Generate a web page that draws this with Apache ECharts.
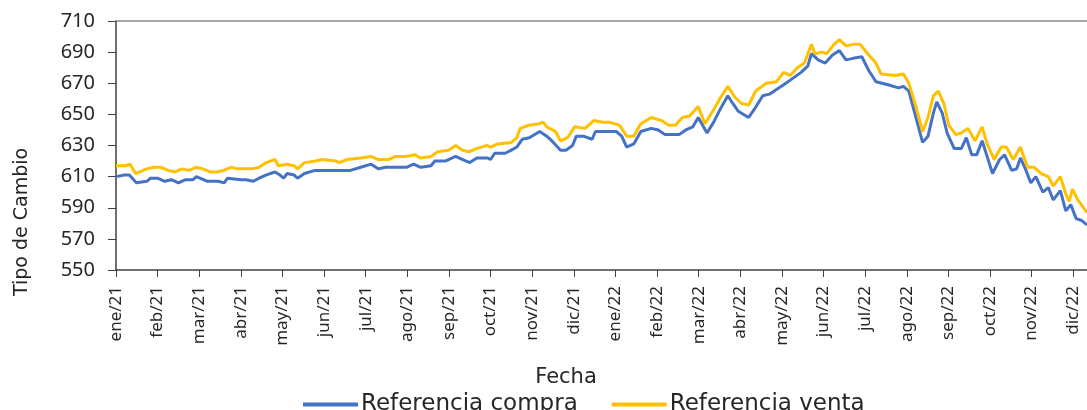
<!DOCTYPE html>
<html>
<head>
<meta charset="utf-8">
<title>Tipo de Cambio</title>
<script src="https://cdn.jsdelivr.net/npm/echarts@6/dist/echarts.min.js"></script>
<style>
  html, body { margin: 0; padding: 0; background: #fff; }
</style>
</head>
<body>
<div id="main" style="width: 1087px; height: 410px;"></div>
<script type="text/javascript">
// month tick labels, x = months since ene/21
var monthLabels = ['ene/21','feb/21','mar/21','abr/21','may/21','jun/21','jul/21','ago/21','sep/21','oct/21','nov/21','dic/21',
  'ene/22','feb/22','mar/22','abr/22','may/22','jun/22','jul/22','ago/22','sep/22','oct/22','nov/22','dic/22'];

var yTicks = { min: 550, max: 710, step: 20 };
var xEnd = 23.33; // chart is cut a few days into dic/22

// [month, value]
var compra = [
  [0,610],[0.2,611],[0.32,611],[0.49,606],[0.74,607],[0.83,609],[1,609],[1.17,607],[1.33,608],[1.5,606],
  [1.67,608],[1.85,608],[1.93,610],[2.2,607],[2.45,607],[2.6,606],[2.68,609],[3,608],[3.12,608],[3.3,607],
  [3.44,609],[3.6,611],[3.82,613],[3.94,611],[4.03,609],[4.11,612],[4.28,611],[4.36,609],[4.53,612],[4.78,614],
  [4.95,614],[5.29,614],[5.63,614],[5.88,616],[6.13,618],[6.3,615],[6.47,616],[6.73,616],[6.98,616],[7.15,618],
  [7.32,616],[7.57,617],[7.66,620],[7.91,620],[8.16,623],[8.33,621],[8.5,619],[8.67,622],[8.92,622],[9,621],
  [9.1,625],[9.35,625],[9.5,627],[9.63,629],[9.76,634],[9.93,635],[10.18,639],[10.35,636],[10.51,632],[10.68,627],
  [10.81,627],[10.97,630],[11.06,636],[11.23,636],[11.44,634],[11.52,639],[11.69,639],[12.02,639],[12.15,636],[12.27,629],
  [12.44,631],[12.61,639],[12.86,641],[13.03,640],[13.19,637],[13.53,637],[13.69,640],[13.86,642],[13.99,648],[14.2,638],
  [14.36,645],[14.53,654],[14.7,662],[14.82,657],[14.95,652],[15.2,648],[15.33,653],[15.54,662],[15.7,663],[15.87,666],
  [16.04,669],[16.2,672],[16.46,677],[16.62,681],[16.71,689],[16.87,685],[17.04,683],[17.21,688],[17.38,691],[17.54,685],
  [17.71,686],[17.92,687],[18.09,678],[18.26,671],[18.55,669],[18.8,667],[18.92,668],[19.05,665],[19.22,648],[19.38,632],
  [19.51,636],[19.64,651],[19.72,658],[19.85,651],[19.97,638],[20.14,628],[20.31,628],[20.43,635],[20.56,624],[20.68,624],
  [20.81,633],[20.93,623],[21.06,612],[21.23,621],[21.35,624],[21.52,614],[21.64,615],[21.73,622],[21.85,615],[21.98,606],
  [22.1,610],[22.27,600],[22.4,603],[22.52,595],[22.69,601],[22.82,588],[22.94,592],[23.07,583],[23.19,582],[23.33,579]
];

var venta = [
  [0,617],[0.24,617],[0.34,618],[0.47,612],[0.57,613],[0.74,615],[0.91,616],[1.08,616],[1.25,614],[1.42,613],
  [1.58,615],[1.75,614],[1.92,616],[2.09,615],[2.26,613],[2.43,613],[2.59,614],[2.76,616],[2.93,615],[3.27,615],
  [3.44,616],[3.61,619],[3.82,621],[3.9,617],[4.11,618],[4.28,617],[4.36,615],[4.53,619],[4.79,620],[4.95,621],
  [5.29,620],[5.37,619],[5.54,621],[5.88,622],[6.13,623],[6.3,621],[6.55,621],[6.72,623],[6.98,623],[7.19,624],
  [7.31,622],[7.57,623],[7.73,626],[7.99,627],[8.16,630],[8.32,627],[8.49,626],[8.66,628],[8.91,630],[9,629],
  [9.17,631],[9.5,632],[9.63,635],[9.71,641],[9.92,643],[10.18,644],[10.26,645],[10.35,642],[10.56,639],[10.68,633],
  [10.85,635],[11.02,642],[11.27,641],[11.48,646],[11.69,645],[11.85,645],[12.1,643],[12.27,636],[12.44,636],[12.61,644],
  [12.86,648],[13.11,646],[13.28,643],[13.44,643],[13.61,648],[13.78,649],[13.99,655],[14.15,644],[14.36,653],[14.53,661],
  [14.7,668],[14.87,661],[15.03,657],[15.2,656],[15.37,665],[15.62,670],[15.87,671],[16.04,677],[16.2,675],[16.37,680],
  [16.54,683],[16.71,695],[16.79,689],[16.96,690],[17.08,689],[17.25,695],[17.38,698],[17.54,694],[17.71,695],[17.88,695],
  [18.09,688],[18.26,683],[18.38,676],[18.72,675],[18.92,676],[19.05,670],[19.22,655],[19.38,639],[19.51,648],[19.64,662],
  [19.76,665],[19.89,657],[20.01,643],[20.18,637],[20.31,638],[20.47,641],[20.64,633],[20.81,642],[20.93,631],[21.1,621],
  [21.27,629],[21.39,629],[21.56,621],[21.73,629],[21.9,616],[22.06,616],[22.23,612],[22.4,610],[22.52,604],[22.69,610],
  [22.82,599],[22.9,594],[22.98,602],[23.11,595],[23.33,587]
];

var myChart = echarts.init(document.getElementById('main'));
var font = 'DejaVu Sans';
var tickFont = 'Noto Sans';

var option = {
  animation: false,
  backgroundColor: '#fff',
  textStyle: { fontFamily: font },
  grid: { left: 116, right: 0, top: 21, bottom: 140, containLabel: false },
  legend: {
    left: 298,
    top: 388,
    icon: 'rect',
    itemWidth: 55,
    itemHeight: 4,
    itemGap: 34,
    textStyle: { fontFamily: font, fontSize: 23, color: '#262626', padding: [0, 0, 0, -2] },
    data: ['Referencia compra', 'Referencia venta']
  },
  graphic: [
    {
      type: 'text', x: 22, y: 222, rotation: Math.PI / 2,
      style: { text: 'Tipo de Cambio', fontFamily: font, fontSize: 19, fill: '#262626', align: 'center', verticalAlign: 'middle' }
    },
    {
      type: 'text', x: 566, y: 378,
      style: { text: 'Fecha', fontFamily: font, fontSize: 21, fill: '#262626', align: 'center', verticalAlign: 'middle' }
    }
  ],
  xAxis: [
    {
      type: 'value',
      min: 0,
      max: xEnd,
      interval: 1,
      axisLine: { show: true, onZero: false, lineStyle: { color: '#404040', width: 1.5 } },
      axisTick: { show: true, length: 7, lineStyle: { color: '#404040' } },
      splitLine: { show: false },
      axisLabel: {
        rotate: 90,
        margin: 16,
        fontFamily: tickFont,
        fontSize: 17,
        color: '#262626',
        showMaxLabel: false,
        formatter: function (v) {
          return Number.isInteger(v) && monthLabels[v] ? monthLabels[v] : '';
        }
      }
    },
    {
      type: 'value',
      position: 'top',
      min: 0,
      max: xEnd,
      axisLine: { show: true, lineStyle: { color: '#8c8c8c', width: 1.5 } },
      axisTick: { show: false },
      axisLabel: { show: false },
      splitLine: { show: false }
    }
  ],
  yAxis: {
    type: 'value',
    min: yTicks.min,
    max: yTicks.max,
    interval: yTicks.step,
    axisLine: { show: true, lineStyle: { color: '#404040', width: 1.5 } },
    axisTick: { show: true, length: 8, lineStyle: { color: '#404040' } },
    splitLine: { show: false },
    axisLabel: { fontFamily: tickFont, fontSize: 20, color: '#262626', margin: 21 }
  },
  series: [
    {
      name: 'Referencia compra',
      type: 'line',
      xAxisIndex: 0,
      data: compra,
      showSymbol: false,
      lineStyle: { color: '#4472C4', width: 3 },
      itemStyle: { color: '#4472C4' }
    },
    {
      name: 'Referencia venta',
      type: 'line',
      xAxisIndex: 0,
      data: venta,
      showSymbol: false,
      lineStyle: { color: '#FFC000', width: 3 },
      itemStyle: { color: '#FFC000' }
    }
  ]
};
myChart.setOption(option);
</script>
</body>
</html>
